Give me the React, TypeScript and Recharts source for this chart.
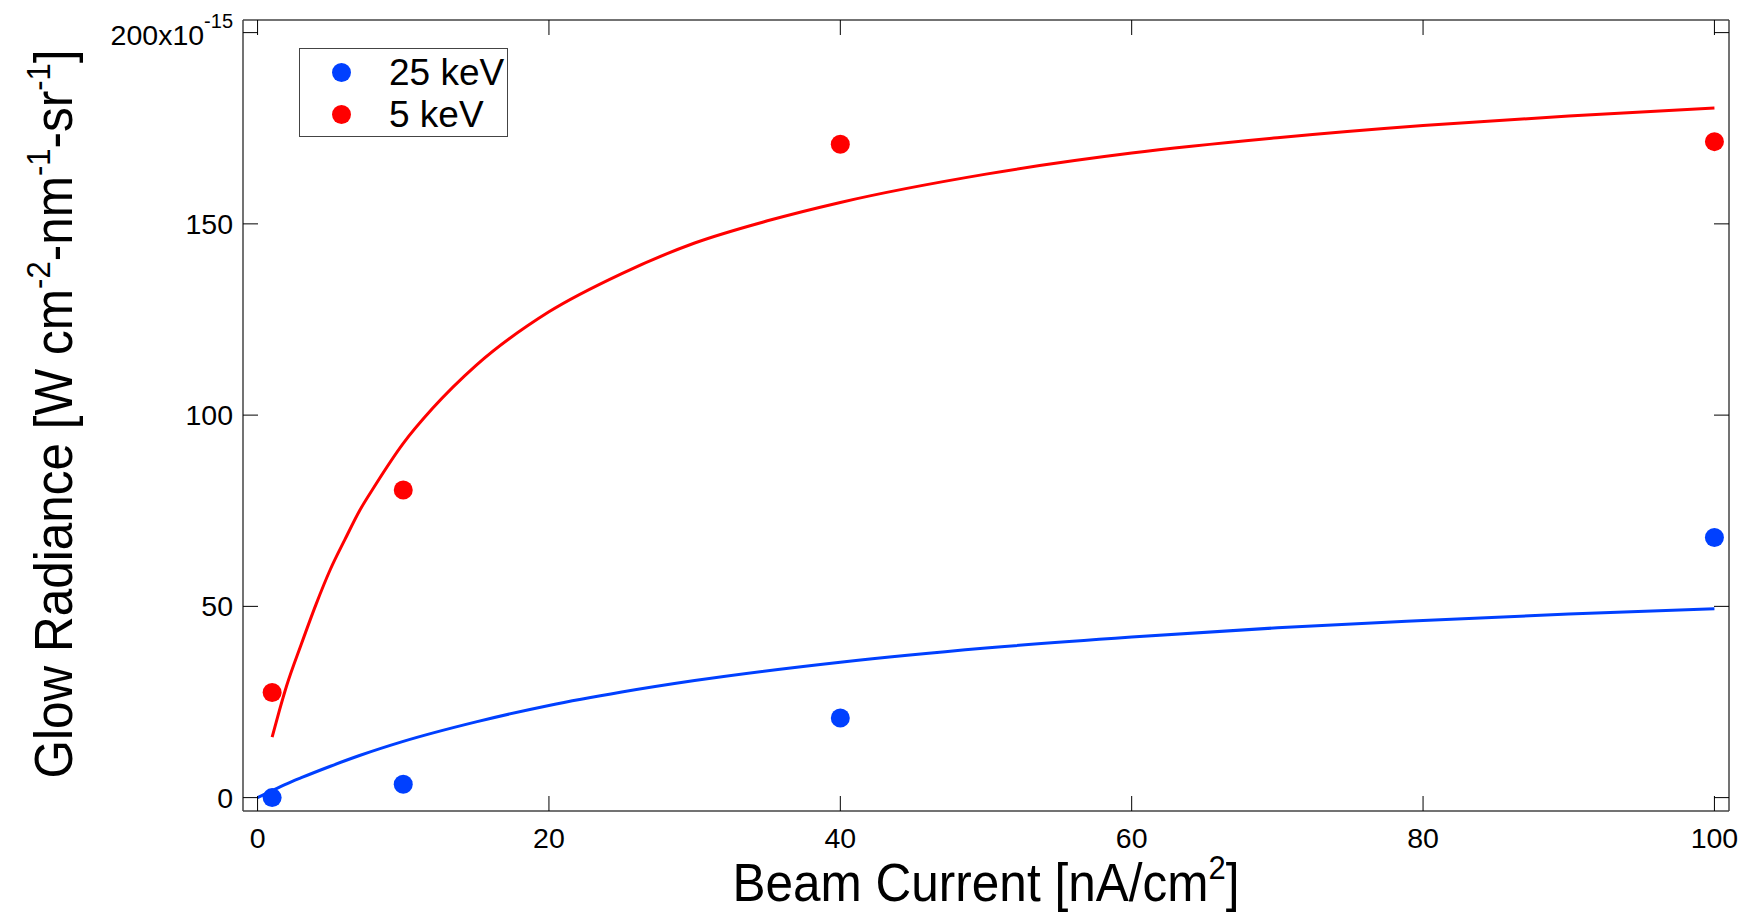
// Glow radiance vs beam current: scatter points with saturating fit curves
import { ComposedChart, Line, Scatter, XAxis, YAxis, Legend } from 'recharts';

const currents = [1, 10, 40, 100];
const radiance25keV = [0, 3.5, 20.8, 68];
const radiance5keV = [27.5, 80.4, 170.8, 171.5];

const fit25X = [0, 1, 2, 3, 5, 7, 10, 15, 20, 25, 30, 40, 50, 60, 70, 80, 90, 100];
const fit25Y = [0, 1.8, 3.6, 5.2, 8.2, 11, 14.7, 19.8, 24.1, 27.6, 30.6, 35.4, 39.1, 42, 44.4, 46.3, 48, 49.4];
const fit5X = [1, 1.5, 2, 3, 4, 5, 6, 7, 8, 10, 12, 15, 20, 25, 30, 35, 40, 50, 60, 70, 80, 90, 100];
const fit5Y = [15.8, 22.8, 29.3, 40.1, 50.4, 59.7, 67.5, 75, 81.2, 92.6, 101.7, 113, 127, 137, 145, 150.8, 155.6, 163, 168.5, 172.5, 175.7, 178.2, 180.3];

const xTicks = [0, 20, 40, 60, 80, 100];
const yTicks = [0, 50, 100, 150, 200];

const BLUE = '#0040ff';
const RED = '#ff0000';
const FONT = '"Liberation Sans", Arial, sans-serif';
const FRAME = '#444';

const pts25 = currents.map((x, i) => ({ x, y: radiance25keV[i] }));
const pts5 = currents.map((x, i) => ({ x, y: radiance5keV[i] }));
const line25 = fit25X.map((x, i) => ({ x, y: fit25Y[i] }));
const line5 = fit5X.map((x, i) => ({ x, y: fit5Y[i] }));

const dot = (color: string) => (p: any) => <circle cx={p.cx} cy={p.cy} r={9.5} fill={color} />;
const noShape = () => <g />;
const noTick = () => <g />;

function YTick({ x, y, payload }: any) {
  if (payload.value === 200) {
    return (
      <text x={x} y={y + 2} textAnchor="end" dominantBaseline="central" fontFamily={FONT} fontSize={28.5} fill="#000">
        200x10<tspan dy={-14} fontSize={20}>-15</tspan>
      </text>
    );
  }
  return (
    <text x={x} y={y} textAnchor="end" dominantBaseline="central" fontFamily={FONT} fontSize={28.5} fill="#000">
      {payload.value}
    </text>
  );
}

function LegendBox({ payload }: any) {
  const items = (payload || []).filter((p: any) => p.type !== 'none' && p.value);
  return (
    <div style={{ border: `1.5px solid ${FRAME}`, width: 209, height: 89, boxSizing: 'border-box', background: '#fff', fontFamily: FONT, paddingTop: 2 }}>
      {items.map((p: any) => (
        <div key={p.value} style={{ display: 'flex', alignItems: 'center', height: 42 }}>
          <div style={{ width: 19, height: 19, borderRadius: '50%', background: p.color, marginLeft: 32, marginRight: 38 }} />
          <span style={{ fontSize: 37, lineHeight: 1 }}>{p.value}</span>
        </div>
      ))}
    </div>
  );
}

const supStyle = { fontSize: 31, verticalAlign: 20 };

export default function App() {
  return (
    <div style={{ position: 'absolute', left: 0, top: 0, width: 1754, height: 912, background: '#fff' }}>
      <ComposedChart width={1754} height={912} margin={{ top: 19, right: 24, bottom: 41, left: 123 }}>
        <XAxis xAxisId="bottom" dataKey="x" type="number" domain={[-1, 101]} ticks={xTicks} allowDataOverflow
          tickSize={-15} tickMargin={32} tick={{ fontFamily: FONT, fontSize: 28.5, fill: '#000' }}
          axisLine={{ stroke: FRAME, strokeWidth: 1.5 }} tickLine={{ stroke: '#000' }} height={60} />
        <XAxis xAxisId="top" orientation="top" dataKey="x" type="number" domain={[-1, 101]} ticks={xTicks} allowDataOverflow
          tickSize={-15} tick={noTick} axisLine={{ stroke: FRAME, strokeWidth: 1.5 }} tickLine={{ stroke: '#000' }} height={1} />
        <YAxis yAxisId="left" type="number" domain={[-3.5, 203.3]} ticks={yTicks} allowDataOverflow
          tickSize={-15} tickMargin={25} tick={<YTick />} width={120}
          axisLine={{ stroke: FRAME, strokeWidth: 1.5 }} tickLine={{ stroke: '#000' }} />
        <YAxis yAxisId="right" orientation="right" type="number" domain={[-3.5, 203.3]} ticks={yTicks} allowDataOverflow
          tickSize={-15} tick={noTick} width={1}
          axisLine={{ stroke: FRAME, strokeWidth: 1.5 }} tickLine={{ stroke: '#000' }} />
        <Legend content={<LegendBox />} layout="horizontal" verticalAlign="middle" align="center"
          wrapperStyle={{ position: 'absolute', left: 299, top: 48, width: 209 }} />
        <Line xAxisId="bottom" yAxisId="left" data={line25} dataKey="y" type="monotone" stroke={BLUE} strokeWidth={3}
          dot={false} legendType="none" isAnimationActive={false} />
        <Line xAxisId="bottom" yAxisId="left" data={line5} dataKey="y" type="monotone" stroke={RED} strokeWidth={3}
          dot={false} legendType="none" isAnimationActive={false} />
        <Scatter xAxisId="bottom" yAxisId="left" name="25 keV" data={pts25} dataKey="y" fill={BLUE} shape={dot(BLUE)}
          legendType="circle" isAnimationActive={false} />
        <Scatter xAxisId="bottom" yAxisId="left" name="5 keV" data={pts5} dataKey="y" fill={RED} shape={dot(RED)}
          legendType="circle" isAnimationActive={false} />
        <Scatter xAxisId="top" yAxisId="right" data={pts5} dataKey="y" shape={noShape}
          legendType="none" isAnimationActive={false} />
      </ComposedChart>
      <div style={{ position: 'absolute', left: 243, width: 1486, top: 853, textAlign: 'center', fontFamily: FONT, fontSize: 49.5, lineHeight: 1, whiteSpace: 'nowrap', transform: 'scaleY(1.08)' }}>
        Beam Current [nA/cm<sup style={supStyle}>2</sup>]
      </div>
      <div style={{ position: 'absolute', left: 51, top: 414, width: 0, height: 0 }}>
        <div style={{ position: 'absolute', transform: 'translate(-50%, -50%) rotate(-90deg) scaleY(1.08)', fontFamily: FONT, fontSize: 49.5, lineHeight: 1, whiteSpace: 'nowrap' }}>
          Glow Radiance [W cm<sup style={supStyle}>-2</sup>-nm<sup style={supStyle}>-1</sup>-sr<sup style={supStyle}>-1</sup>]
        </div>
      </div>
    </div>
  );
}
